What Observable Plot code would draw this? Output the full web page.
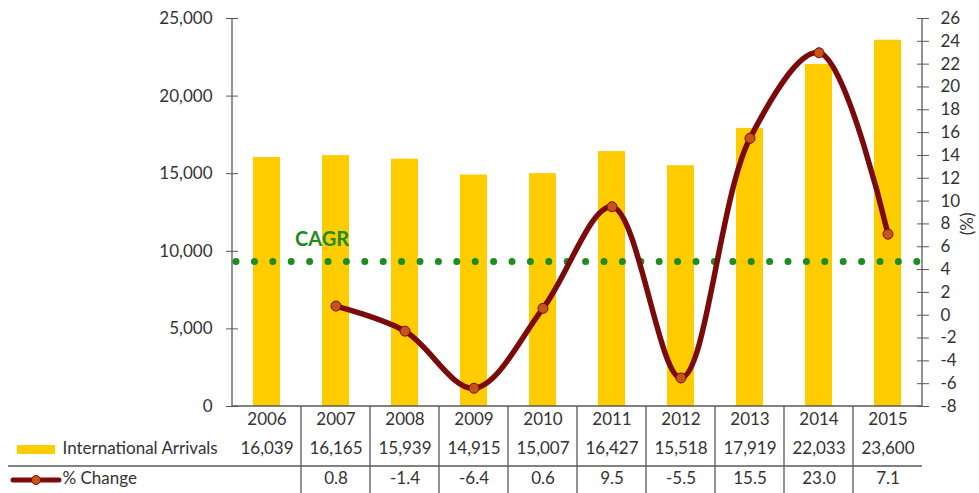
<!DOCTYPE html>
<html>
<head>
<meta charset="utf-8">
<script src="https://cdn.jsdelivr.net/npm/d3@7"></script>
<script src="https://cdn.jsdelivr.net/npm/@observablehq/plot@0.6"></script>
<style>
  html, body { margin: 0; padding: 0; background: #fff; }
  #chart svg { display: block; }
</style>
</head>
<body>
<div id="chart"></div>
<script>
// ---- Data ----
const years = ["2006","2007","2008","2009","2010","2011","2012","2013","2014","2015"];
const arrivals = [16039, 16165, 15939, 14915, 15007, 16427, 15518, 17919, 22033, 23600];
const pctYears = ["2007","2008","2009","2010","2011","2012","2013","2014","2015"];
const pctChange = [0.8, -1.4, -6.4, 0.6, 9.5, -5.5, 15.5, 23.0, 7.1];
const cagr = 4.7;
const leftTicks = [0, 5000, 10000, 15000, 20000, 25000];
const rightTicks = [-8,-6,-4,-2,0,2,4,6,8,10,12,14,16,18,20,22,24,26];
const seriesLabels = ["International Arrivals", "% Change"];

// ---- Secondary axis mapping (% -> left scale units) ----
const pMin = -8, pMax = 26, aMax = 25000;
const toLeft = p => (p - pMin) / (pMax - pMin) * aMax;
const fromLeft = v => v / aMax * (pMax - pMin) + pMin;

const barData = years.map((y, i) => ({year: y, value: arrivals[i]}));
const lineData = pctYears.map((y, i) => ({year: y, pct: pctChange[i], v: toLeft(pctChange[i])}));
const fmt = d3.format(",");

const FONT = "Lato, 'Open Sans', sans-serif";
const TXT = "#333333";
const FS = 17;
const BAR = "#FFCC00";
const LINE = "#7B0A0A";
const MARK = "#C5541A";
const GREEN = "#1E8C1E";

// custom mark: axis lines, table grid, legend swatches
function decorations(index, scales, values, dims) {
  const x = scales.x, y = scales.y;
  const g = d3.create("svg:g");
  const left = dims.marginLeft, right = dims.width - dims.marginRight;
  const y0 = y(0), yTop = y(aMax), bottom = dims.height;
  const s = "#595959";
  g.append("line").attr("x1", left).attr("x2", left).attr("y1", yTop).attr("y2", y0).attr("stroke", s).attr("stroke-width", 1.3);
  g.append("line").attr("x1", right).attr("x2", right).attr("y1", yTop).attr("y2", y0).attr("stroke", s).attr("stroke-width", 1.3);
  g.append("line").attr("x1", left).attr("x2", right).attr("y1", y0).attr("y2", y0).attr("stroke", s).attr("stroke-width", 1.3);
  years.forEach((yr, i) => {
    if (i === 0) return;
    const xx = x(yr);
    g.append("line").attr("x1", xx).attr("x2", xx).attr("y1", y0).attr("y2", bottom).attr("stroke", s).attr("stroke-width", 1.3);
  });
  g.append("line").attr("x1", 8).attr("x2", right).attr("y1", y0 + 60).attr("y2", y0 + 60).attr("stroke", s).attr("stroke-width", 1.3);
  g.append("rect").attr("x", 17).attr("y", y0 + 39).attr("width", 38).attr("height", 9).attr("fill", BAR);
  g.append("line").attr("x1", 13).attr("x2", 59).attr("y1", y0 + 74).attr("y2", y0 + 74).attr("stroke", LINE).attr("stroke-width", 5).attr("stroke-linecap", "round");
  g.append("circle").attr("cx", 36).attr("cy", y0 + 74).attr("r", 4.5).attr("fill", MARK).attr("stroke", LINE).attr("stroke-width", 1);
  return g.node();
}

const chart = Plot.plot({
  width: 979,
  height: 493,
  marginLeft: 232,
  marginRight: 57,
  marginTop: 18,
  marginBottom: 87,
  style: {fontFamily: FONT, fontSize: FS + "px", color: TXT, background: "#fff"},
  x: {domain: years, padding: 0, axis: null},
  y: {domain: [0, aMax], axis: null},
  marks: [
    Plot.barY(barData, {x: "year", y: "value", fill: BAR, insetLeft: 21, insetRight: 21}),
    Plot.ruleY([toLeft(cagr)], {stroke: GREEN, strokeWidth: 7, strokeLinecap: "round", strokeDasharray: "0 18.4", dx: 4}),
    Plot.text(["CAGR"], {x: () => "2007", y: toLeft(cagr), dy: -22, dx: -14, fill: GREEN, fontWeight: "bold", fontSize: 20, textAnchor: "middle"}),
    Plot.line(lineData, {x: "year", y: "v", stroke: LINE, strokeWidth: 5.5, curve: "catmull-rom"}),
    Plot.dot(lineData, {x: "year", y: "v", r: 5, fill: MARK, stroke: LINE, strokeWidth: 1}),
    decorations,
    Plot.axisY(leftTicks, {anchor: "left", tickSize: 12, dx: 6, tickPadding: 14, tickFormat: fmt, stroke: "#595959", fill: TXT, fontSize: FS, label: null}),
    Plot.axisY(rightTicks.map(toLeft), {anchor: "right", tickSize: 12, dx: -6, tickPadding: 12, tickFormat: v => String(Math.round(fromLeft(v))), stroke: "#595959", fill: TXT, fontSize: FS, label: null}),
    Plot.text(["(%)"], {frameAnchor: "right", dx: 45, dy: 0, rotate: -90, fill: TXT, fontSize: FS}),
    Plot.text(years, {x: d => d, frameAnchor: "bottom", dy: 18, fill: TXT, fontSize: FS}),
    Plot.text(barData, {x: "year", text: d => fmt(d.value), frameAnchor: "bottom", dy: 47, fill: TXT, fontSize: FS}),
    Plot.text(lineData, {x: "year", text: d => d.pct.toFixed(1), frameAnchor: "bottom", dy: 77, fill: TXT, fontSize: FS}),
    Plot.text([seriesLabels[0]], {frameAnchor: "bottom-left", dx: -170, dy: 47, textAnchor: "start", fill: TXT, fontSize: FS}),
    Plot.text([seriesLabels[1]], {frameAnchor: "bottom-left", dx: -170, dy: 77, textAnchor: "start", fill: TXT, fontSize: FS})
  ]
});
document.getElementById("chart").appendChild(chart);
</script>
</body>
</html>
